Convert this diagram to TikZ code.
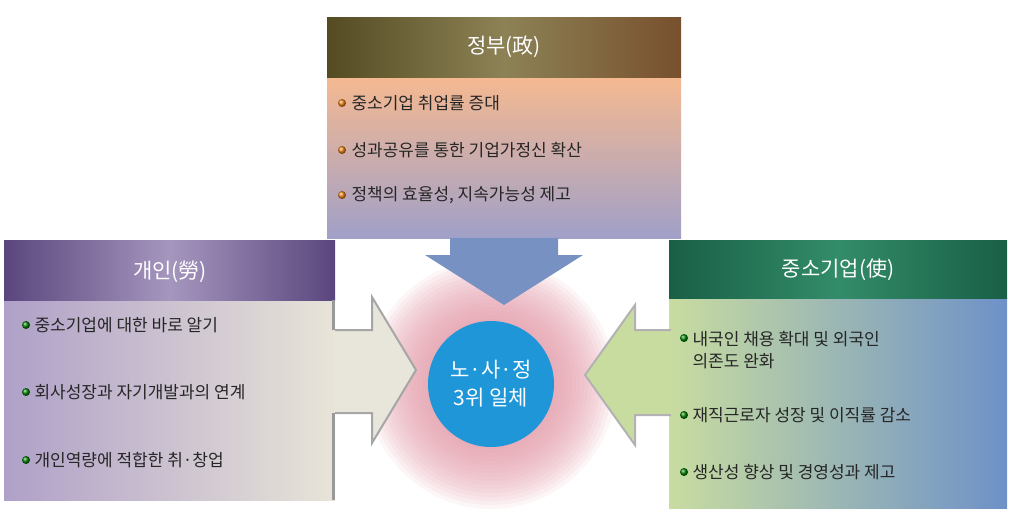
\documentclass[tikz,border=0pt]{standalone}
\usepackage{fontspec}
\setmainfont{Noto Sans CJK KR}
\usetikzlibrary{shadings}
\definecolor{tbtop}{RGB}{245,185,145}
\definecolor{tbbot}{RGB}{160,160,200}
\definecolor{thl}{RGB}{85,75,35}
\definecolor{thr}{RGB}{120,80,45}
\definecolor{thm}{RGB}{140,130,85}
\definecolor{darr}{RGB}{120,145,195}
\definecolor{lbl}{RGB}{175,160,200}
\definecolor{lbr}{RGB}{232,228,216}
\definecolor{lhe}{RGB}{90,70,125}
\definecolor{lhm}{RGB}{165,150,190}
\definecolor{larr}{RGB}{232,230,218}
\definecolor{rbl}{RGB}{200,220,160}
\definecolor{rbr}{RGB}{110,145,200}
\definecolor{rhe}{RGB}{25,95,70}
\definecolor{rhm}{RGB}{50,140,105}
\definecolor{cblue}{RGB}{30,150,215}
\definecolor{glow}{RGB}{225,150,165}
\tikzset{x=1pt,y=-1pt,
 item/.style={anchor=west,font=\fontsize{17}{22}\selectfont,text=black!85,align=left},
 head/.style={font=\fontsize{21}{24}\selectfont,text=white},
 gbul/.style={circle,inner sep=0pt,minimum size=8pt,ball color=green!50!black},
 obul/.style={circle,inner sep=0pt,minimum size=8pt,ball color=orange!70!brown}}
\begin{document}
\begin{tikzpicture}
\useasboundingbox (0,0) rectangle (1017,515);
% glow
\foreach \r in {125,121,...,65}
  \fill[glow,opacity=0.09] (491,384) circle (\r);
% top box
\shade[top color=tbtop,bottom color=tbbot] (327,77) rectangle (681,238);
\shade[left color=thl,right color=thr,middle color=thm] (327,17) rectangle (681,77);
\node[head] (gov) at (504,47) {정부(政)};
% down arrow
\fill[darr] (450,238) -- (558,238) -- (558,255) -- (583,255) -- (504,305) -- (425,255) -- (450,255) -- cycle;
\coordinate (gtip) at (504,305);
% left box
\shade[left color=lbl,right color=lbr] (4,300) rectangle (335,500);
\shade[left color=lhe,right color=lhe,middle color=lhm] (4,240) rectangle (335,300);
\draw[gray!80,line width=3pt] (333,300) -- (333,330) (333,413) -- (333,500);
\node[head] (lab) at (170,272) {개인(勞)};
\draw[fill=larr,draw=gray!70,line width=2pt] (335,330) -- (372,330) -- (372,297) -- (416,370) -- (372,443) -- (372,413) -- (335,413);
\coordinate (ltip) at (416,370);
% right box
\shade[left color=rbl,right color=rbr] (669,298) rectangle (1007,508);
\shade[left color=rhe,right color=rhe,middle color=rhm] (669,240) rectangle (1007,298);
\node[head] (biz) at (838,270) {중소기업(使)};
\draw[fill=rbl,draw=gray!60,line width=2pt] (671,330) -- (635,330) -- (635,305) -- (585,375) -- (635,445) -- (635,415) -- (671,415);
\coordinate (rtip) at (585,375);
% center
\node[circle,fill=cblue,minimum size=126pt,inner sep=0pt,text=white,align=center,font=\fontsize{21}{28}\selectfont] (c) at (491,384) {노·사·정\\3위 일체};
% top items
\node[obul] (ob1) at (342,103) {}; \node[item] (g1) at (348,103) {중소기업 취업률 증대};
\node[obul] (ob2) at (342,150) {}; \node[item] (g2) at (348,150) {성과공유를 통한 기업가정신 확산};
\node[obul] (ob3) at (342,195) {}; \node[item] (g3) at (348,195) {정책의 효율성, 지속가능성 제고};
% left items
\node[gbul] (lb1) at (26,325) {}; \node[item] (l1) at (31,325) {중소기업에 대한 바로 알기};
\node[gbul] (lb2) at (26,392) {}; \node[item] (l2) at (31,392) {회사성장과 자기개발과의 연계};
\node[gbul] (lb3) at (26,460) {}; \node[item] (l3) at (31,460) {개인역량에 적합한 취·창업};
% right items
\node[gbul] (rb1) at (684,338) {}; \node[item] (r1) at (689,350) {내국인 채용 확대 및 외국인\\의존도 완화};
\node[gbul] (rb2) at (684,415) {}; \node[item] (r2) at (689,415) {재직근로자 성장 및 이직률 감소};
\node[gbul] (rb3) at (684,472) {}; \node[item] (r3) at (689,472) {생산성 향상 및 경영성과 제고};
\end{tikzpicture}
\end{document}
